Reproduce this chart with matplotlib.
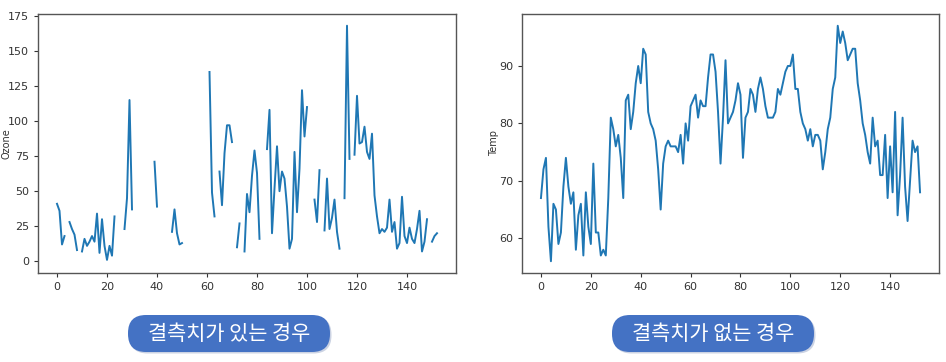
import numpy as np
import matplotlib
matplotlib.use("Agg")
import matplotlib.pyplot as plt
from matplotlib.patches import FancyBboxPatch

plt.rcParams['font.family'] = ['DejaVu Sans']

NA = np.nan
ozone = [41, 36, 12, 18, NA, 28, 23, 19, 8, NA, 7, 16, 11, 14, 18, 14, 34, 6, 30, 11,
         1, 11, 4, 32, NA, NA, NA, 23, 45, 115, 37, NA, NA, NA, NA, NA, NA, 29, NA, 71,
         39, NA, NA, 23, NA, NA, 21, 37, 20, 12, 13, NA, NA, NA, NA, NA, NA, NA, NA, NA,
         NA, 135, 49, 32, NA, 64, 40, 77, 97, 97, 85, NA, 10, 27, NA, 7, 48, 35, 61, 79,
         63, 16, NA, NA, 80, 108, 20, 52, 82, 50, 64, 59, 39, 9, 16, 78, 35, 66, 122, 89,
         110, NA, NA, 44, 28, 65, NA, 22, 59, 23, 31, 44, 21, 9, NA, 45, 168, 73, NA, 76,
         118, 84, 85, 96, 78, 73, 91, 47, 32, 20, 23, 21, 24, 44, 21, 28, 9, 13, 46, 18,
         13, 24, 16, 13, 23, 36, 7, 14, 30, NA, 14, 18, 20]
temp = [67, 72, 74, 62, 56, 66, 65, 59, 61, 69, 74, 69, 66, 68, 58, 64, 66, 57, 68, 62,
        59, 73, 61, 61, 57, 58, 57, 67, 81, 79, 76, 78, 74, 67, 84, 85, 79, 82, 87, 90,
        87, 93, 92, 82, 80, 79, 77, 72, 65, 73, 76, 77, 76, 76, 76, 75, 78, 73, 80, 77,
        83, 84, 85, 81, 84, 83, 83, 88, 92, 92, 89, 82, 73, 81, 91, 80, 81, 82, 84, 87,
        85, 74, 81, 82, 86, 85, 82, 86, 88, 86, 83, 81, 81, 81, 82, 86, 85, 87, 89, 90,
        90, 92, 86, 86, 82, 80, 79, 77, 79, 76, 78, 78, 77, 72, 75, 79, 81, 86, 88, 97,
        94, 96, 94, 91, 92, 93, 93, 87, 84, 80, 78, 75, 73, 81, 76, 77, 71, 71, 78, 67,
        76, 68, 82, 64, 71, 81, 69, 63, 70, 77, 75, 76, 68]
labels = ["결측치가 있는 경우", "결측치가 없는 경우"]
ylabels = ["Ozone", "Temp"]

W, H = 946, 362
fig = plt.figure(figsize=(W/100, H/100), dpi=100)

def px_axes(x0, y0, x1, y1):
    return fig.add_axes([x0/W, 1 - y1/H, (x1-x0)/W, (y1-y0)/H])

ax1 = px_axes(38, 14, 456, 273)
ax2 = px_axes(522, 14, 939, 273)

for ax, data, yl in [(ax1, ozone, ylabels[0]), (ax2, temp, ylabels[1])]:
    x = np.arange(len(data))
    ax.plot(x, np.array(data, dtype=float), color='#1f77b4', lw=1.4)
    ax.set_ylabel(yl, fontsize=7, color='#333333')
    ax.tick_params(labelsize=8, colors='#333333', length=3)
    ax.set_xticks(range(0, 141, 20))
    for s in ax.spines.values():
        s.set_color('#555555')
        s.set_linewidth(1.0)

ax1.set_yticks(range(0, 176, 25))
ax1.set_ylim(-8.35, 176.35)
ax2.set_yticks([60, 70, 80, 90])
ax1.yaxis.set_label_coords((12 - 38) / 418, 0.5)
ax2.yaxis.set_label_coords((499 - 522) / 417, 0.5)

# overlay for label boxes
ov = fig.add_axes([0, 0, 1, 1])
ov.set_xlim(0, W)
ov.set_ylim(H, 0)
ov.axis('off')
ov.set_zorder(10)
for cx, txt in [(229, labels[0]), (713, labels[1])]:
    bw, bh = 202, 37
    shadow = FancyBboxPatch((cx - bw/2 + 1.5, 315 + 1.5), bw, bh,
                            boxstyle='round,pad=0,rounding_size=18',
                            fc='#9aa9c8', ec='none', alpha=0.5)
    ov.add_patch(shadow)
    box = FancyBboxPatch((cx - bw/2, 315), bw, bh,
                         boxstyle='round,pad=0,rounding_size=18',
                         fc='#4472C4', ec='none')
    ov.add_patch(box)
    ov.text(cx, 315 + bh/2, txt, ha='center', va='center', color='white',
            fontsize=15, family=['Noto Sans CJK KR', 'DejaVu Sans'])

fig.savefig('out.png', dpi=100, facecolor='white')
